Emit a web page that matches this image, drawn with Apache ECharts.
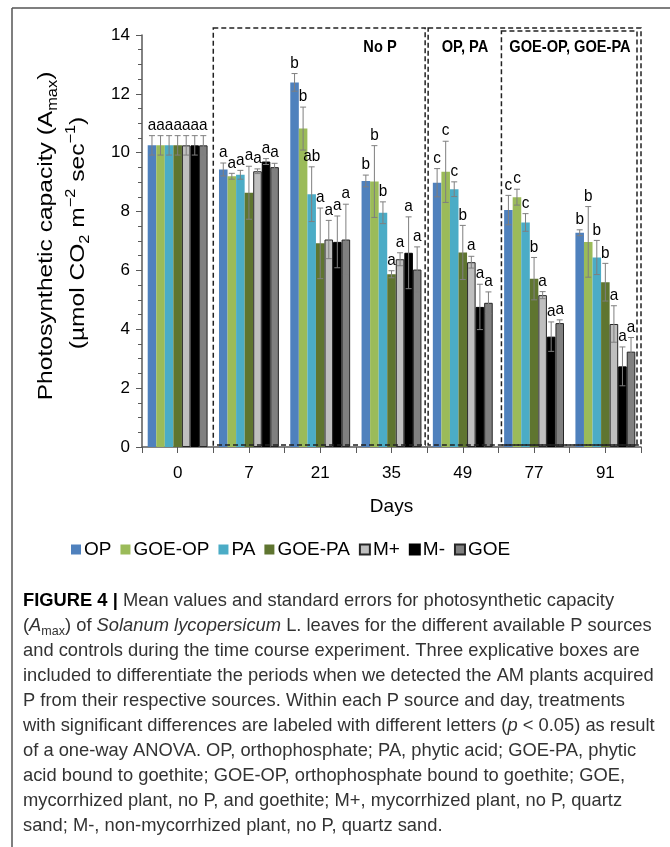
<!DOCTYPE html>
<html>
<head>
<meta charset="utf-8">
<script src="https://cdn.jsdelivr.net/npm/echarts@6/dist/echarts.min.js"></script>
<style>
  html, body { margin: 0; padding: 0; background: #fff; }
  #chart { width: 670px; height: 847px; }
</style>
</head>
<body>
<div id="chart"></div>
<script>
const days = ["0", "7", "21", "35", "49", "77", "91"];
const seriesNames = ["OP", "GOE-OP", "PA", "GOE-PA", "M+", "M-", "GOE"];

// mean Amax per treatment, one value per day
const meanOP    = [10.25, 9.43, 12.39, 9.04, 8.98, 8.05, 7.28];
const meanGOEOP = [10.25, 9.20, 10.82, 9.02, 9.35, 8.49, 6.97];
const meanPA    = [10.25, 9.25, 8.59, 7.96, 8.76, 7.63, 6.44];
const meanGOEPA = [10.25, 8.64, 6.92, 5.87, 6.61, 5.72, 5.60];
const meanMplus = [10.25, 9.37, 7.05, 6.38, 6.28, 5.16, 4.18];
const meanMminus= [10.25, 9.70, 6.97, 6.60, 4.76, 3.75, 2.74];
const meanGOE   = [10.25, 9.51, 7.05, 6.03, 4.90, 4.21, 3.24];

// standard errors
const errOP    = [0.33, 0.22, 0.30, 0.20, 0.48, 0.50, 0.10];
const errGOEOP = [0.33, 0.10, 0.73, 1.22, 1.04, 0.27, 1.20];
const errPA    = [0.33, 0.15, 0.93, 0.37, 0.25, 0.30, 0.58];
const errGOEPA = [0.33, 0.90, 1.20, 0.12, 0.92, 0.72, 0.64];
const errMplus = [0.33, 0.08, 0.65, 0.22, 0.20, 0.12, 0.62];
const errMminus= [0.33, 0.10, 0.88, 1.22, 0.77, 0.50, 0.66];
const errGOE   = [0.33, 0.13, 1.20, 0.77, 0.37, 0.11, 0.48];

// significance letters
const letOP    = ["a", "a", "b", "b", "c", "c", "b"];
const letGOEOP = ["a", "a", "b", "b", "c", "c", "b"];
const letPA    = ["a", "a", "ab", "b", "c", "c", "b"];
const letGOEPA = ["a", "a", "a", "a", "b", "b", "b"];
const letMplus = ["a", "a", "a", "a", "a", "a", "a"];
const letMminus= ["a", "a", "a", "a", "a", "a", "a"];
const letGOE   = ["a", "a", "a", "a", "a", "a", "a"];

const yTicks = [0, 2, 4, 6, 8, 10, 12, 14];

const means = [meanOP, meanGOEOP, meanPA, meanGOEPA, meanMplus, meanMminus, meanGOE];
const errs = [errOP, errGOEOP, errPA, errGOEPA, errMplus, errMminus, errGOE];
const letters = [letOP, letGOEOP, letPA, letGOEPA, letMplus, letMminus, letGOE];

const colors = ["#4F81BD", "#9BBB59", "#4BACC6", "#5F7530", "#BFBFBF", "#000000", "#808080"];
const borders = [null, null, null, null, "#262626", "#000000", "#262626"];

const FONT = "Liberation Sans, Arial, sans-serif";
const GRID = { left: 142, right: 641, top: 35, bottom: 447 };
const GAP = 0.16; // barCategoryGap

function errorBars(si) {
  return function (params, api) {
    const cat = api.value(0);
    const m = api.value(1);
    const e = api.value(2);
    const catW = api.size([1, 0])[0];
    const bw = catW * (1 - GAP) / seriesNames.length;
    const x = api.coord([cat, m])[0] + (si - 3) * bw;
    const yHi = api.coord([cat, m + e])[1];
    const yLo = api.coord([cat, m - e])[1];
    const cap = 3;
    const st = { stroke: "#7F7F7F", lineWidth: 1 };
    return {
      type: "group",
      children: [
        { type: "line", shape: { x1: x, y1: yHi, x2: x, y2: yLo }, style: st },
        { type: "line", shape: { x1: x - cap, y1: yHi, x2: x + cap, y2: yHi }, style: st },
        { type: "line", shape: { x1: x - cap, y1: yLo, x2: x + cap, y2: yLo }, style: st },
        {
          type: "text",
          x: x, y: yHi - 2, scaleX: 0.9,
          style: {
            text: letters[si][params.dataIndex],
            align: "center", verticalAlign: "bottom",
            font: "17px " + FONT, fill: "#000"
          }
        }
      ]
    };
  };
}

const series = [];
seriesNames.forEach(function (name, i) {
  series.push({
    name: name,
    type: "bar",
    data: means[i],
    barGap: "0%",
    barCategoryGap: (GAP * 100) + "%",
    itemStyle: {
      color: colors[i],
      borderColor: borders[i] || colors[i],
      borderWidth: borders[i] ? 1 : 0
    }
  });
});
seriesNames.forEach(function (name, i) {
  series.push({
    type: "custom",
    renderItem: errorBars(i),
    z: 5,
    silent: true,
    data: means[i].map(function (v, j) { return [j, v, errs[i][j]]; }),
    encode: { x: 0, y: 1 }
  });
});

// dashed boxes marking the P uptake periods
const catW = (GRID.right - GRID.left) / days.length;
const dash = { stroke: "#222", lineWidth: 1.5, lineDash: [5, 3], fill: null };
function box(x1, y1, x2, y2) {
  return { type: "rect", shape: { x: x1, y: y1, width: x2 - x1, height: y2 - y1 }, style: dash, z: 10 };
}
function boxLabel(text, x) {
  return {
    type: "text", x: x, y: 47, z: 10, scaleX: 0.86,
    style: { text: text, align: "center", verticalAlign: "middle", font: "bold 17px " + FONT, fill: "#000" }
  };
}

const ySub = { fontSize: 14, lineHeight: 12, verticalAlign: "bottom", fontFamily: FONT, fill: "#000" };
const ySup = { fontSize: 14, lineHeight: 12, verticalAlign: "top", fontFamily: FONT, fill: "#000" };
const yBase = { fontSize: 21, lineHeight: 28, fontFamily: FONT, fill: "#000" };

const capBase = { fontSize: 19, lineHeight: 25, fontFamily: FONT, fill: "#333" };
const caption =
  "{b|FIGURE 4 |}{n| Mean values and standard errors for photosynthetic capacity}\n" +
  "{n|(}{i|A}{s|max}{n|) of }{i|Solanum lycopersicum}{n| L. leaves for the different available P sources}\n" +
  "{n|and controls during the time course experiment. Three explicative boxes are}\n" +
  "{n|included to differentiate the periods when we detected the AM plants acquired}\n" +
  "{n|P from their respective sources. Within each P source and day, treatments}\n" +
  "{n|with significant differences are labeled with different letters (}{i|p}{n| < 0.05) as result}\n" +
  "{n|of a one-way ANOVA. OP, orthophosphate; PA, phytic acid; GOE-PA, phytic}\n" +
  "{n|acid bound to goethite; GOE-OP, orthophosphate bound to goethite; GOE,}\n" +
  "{n|mycorrhized plant, no P, and goethite; M+, mycorrhized plant, no P, quartz}\n" +
  "{n|sand; M-, non-mycorrhized plant, no P, quartz sand.}";

const option = {
  animation: false,
  backgroundColor: "#fff",
  textStyle: { fontFamily: FONT },
  grid: { left: GRID.left, right: 670 - GRID.right, top: GRID.top, bottom: 847 - GRID.bottom },
  legend: {
    data: seriesNames,
    left: 66, top: 535,
    icon: "rect", itemWidth: 10, itemHeight: 10, itemGap: 9,
    textStyle: { fontSize: 19, color: "#000", fontFamily: FONT, padding: [0, 0, 0, -2] }
  },
  xAxis: [{
    type: "category",
    data: days,
    name: "Days", nameLocation: "middle", nameGap: 50,
    nameTextStyle: { fontSize: 19, color: "#000" },
    axisLine: { lineStyle: { color: "#595959", width: 1.5 } },
    axisTick: { show: true, alignWithLabel: false, inside: false, length: 6, lineStyle: { color: "#595959" } },
    axisLabel: { fontSize: 17, color: "#000", margin: 18 }
  }, {
    // second axis only adds the centre ticks
    type: "category", data: days, position: "bottom",
    axisLine: { show: false },
    axisTick: { show: true, alignWithLabel: true, length: 6, lineStyle: { color: "#595959" } },
    axisLabel: { show: false }
  }],
  yAxis: {
    type: "value",
    min: yTicks[0], max: yTicks[yTicks.length - 1], interval: 2,
    axisLine: { show: true, lineStyle: { color: "#595959", width: 1.5 } },
    axisTick: { show: true, length: 6, lineStyle: { color: "#595959" } },
    minorTick: { show: true, splitNumber: 4, length: 4, lineStyle: { color: "#595959" } },
    splitLine: { show: false },
    axisLabel: { fontSize: 17, color: "#000", margin: 12 }
  },
  series: series,
  graphic: [
    // figure frame
    { type: "line", shape: { x1: 12, y1: 8, x2: 670, y2: 8 }, style: { stroke: "#555", lineWidth: 1.5 } },
    { type: "line", shape: { x1: 12, y1: 8, x2: 12, y2: 847 }, style: { stroke: "#555", lineWidth: 1.5 } },
    box(GRID.left + catW, 28, GRID.left + 4 * catW - 2, 445),
    box(GRID.left + 4 * catW + 1, 28, GRID.right, 445),
    box(GRID.left + 5 * catW + 3, 31, GRID.right - 4, 445),
    boxLabel("No P", 380),
    boxLabel("OP, PA", 465),
    boxLabel("GOE-OP, GOE-PA", 570),
    {
      type: "text", x: 46, y: 236, rotation: Math.PI / 2, scaleX: 1.17,
      style: {
        text: "{a|Photosynthetic capacity (A}{s|max}{a|)}",
        align: "center", verticalAlign: "middle",
        rich: { a: yBase, s: ySub }
      }
    },
    {
      type: "text", x: 78, y: 233, rotation: Math.PI / 2, scaleX: 1.17,
      style: {
        text: "{a|(µmol CO}{s|2}{a| m}{p|−2}{a| sec}{p|−1}{a|)}",
        align: "center", verticalAlign: "middle",
        rich: { a: yBase, s: ySub, p: ySup }
      }
    },
    {
      type: "text", x: 23, y: 588, scaleX: 0.965,
      style: {
        text: caption,
        align: "left", verticalAlign: "top",
        rich: {
          n: capBase,
          b: Object.assign({}, capBase, { fontWeight: "bold", fill: "#000" }),
          i: Object.assign({}, capBase, { fontStyle: "italic" }),
          s: { fontSize: 13, lineHeight: 15, verticalAlign: "bottom", fontFamily: FONT, fill: "#333" }
        }
      }
    }
  ]
};

const chart = echarts.init(document.getElementById("chart"));
chart.setOption(option);
</script>
</body>
</html>
